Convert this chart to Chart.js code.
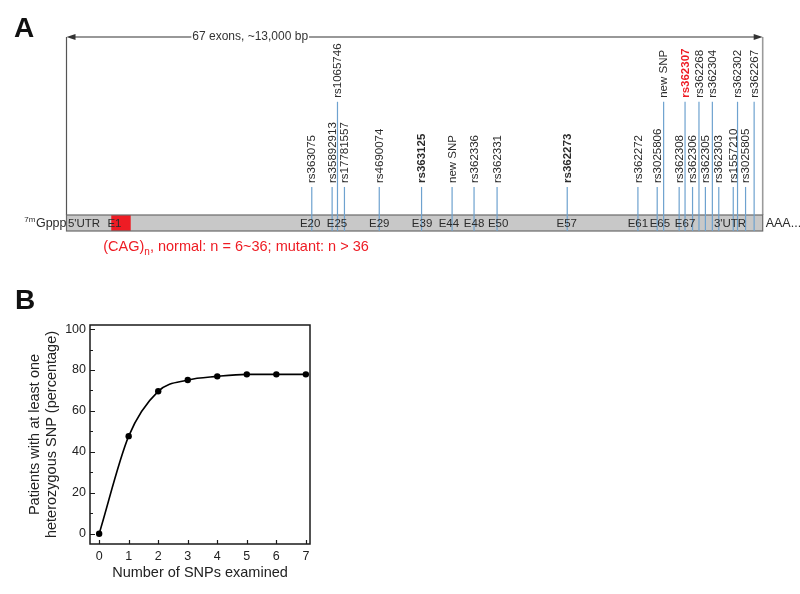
<!DOCTYPE html>
<html><head><meta charset="utf-8">
<script src="https://cdn.jsdelivr.net/npm/chart.js@4/dist/chart.umd.min.js"></script>
<style>
html,body{margin:0;padding:0;background:#fff;}
#wrap{position:relative;width:800px;height:594px;overflow:hidden;background:#fff;}
#geneCanvas{position:absolute;left:0;top:0;}
#curveCanvas{position:absolute;left:0;top:280px;}
</style></head><body>
<div id="wrap">
<canvas id="geneCanvas" width="800" height="280"></canvas>
<canvas id="curveCanvas" width="420" height="314"></canvas>
</div>
<script>
// ===== Panel A: HTT transcript with SNP sites =====
const geneLengthBp = 13000;
const geneTitle = '67 exons, ~13,000 bp';
const snpNames = ['rs363075','rs35892913','rs1065746','rs17781557','rs4690074','rs363125','new SNP','rs362336','rs362331','rs362273','rs362272','rs3025806','new SNP','rs362308','rs362307','rs362306','rs362268','rs362305','rs362304','rs362303','rs1557210','rs362302','rs3025805','rs362267'];
const snpPositionsBp = [4580,4960,5060,5190,5840,6630,7200,7610,8040,9350,10670,11030,11150,11440,11550,11690,11810,11930,12060,12180,12450,12530,12680,12840];
const snpTier = [1,1,2,1,1,1,1,1,1,1,1,1,2,1,2,1,2,1,2,1,1,2,1,2];
const snpEmphasis = ['n','n','n','n','n','b','n','n','n','b','n','n','n','n','r','n','n','n','n','n','n','n','n','n'];
const exonLabels = ["5'UTR",'E1','E20','E25','E29','E39','E44','E48','E50','E57','E61','E65','E67',"3'UTR"];
const exonLabelPositionsBp = [327,896,4550,5050,5840,6640,7140,7610,8060,9340,10670,11080,11550,12390];
const cagExonRangeBp = [836,1199];
const capLabel = ['7m','Gppp'];
const polyALabel = 'AAA...';
const cagNote = ['(CAG)','n',', normal: n = 6~36; mutant: n > 36'];

// ===== Panel B: cumulative heterozygosity =====
const snpCountValues = [0,1,2,3,4,5,6,7];
const patientsHetPct = [0,47.7,69.6,75.1,76.9,77.9,77.9,77.9];
const yTickValues = [0,20,40,60,80,100];
const xAxisTitle = 'Number of SNPs examined';
const yAxisTitle = ['Patients with at least one','heterozygous SNP (percentage)'];

const FONT = '"Liberation Sans", Arial, Helvetica, sans-serif';
Chart.defaults.font.family = FONT;

// layout constants (panel A, in y-scale units 0..100)
const BOX_TOP = 8.25;
const TIER_HEIGHT = {1: 22.7, 2: 66.6};
const TITLE_POS_BP = 3430;

const genePlugin = {
  id: 'gene',
  beforeDatasetsDraw(chart) {
    const {ctx, scales: {x, y}} = chart;
    const x0 = x.getPixelForValue(0), x1 = x.getPixelForValue(geneLengthBp);
    const yb = y.getPixelForValue(0), yt = y.getPixelForValue(BOX_TOP), ya = y.getPixelForValue(100);
    ctx.save();
    // end lines
    ctx.lineWidth = 1.2; ctx.strokeStyle = '#555';
    ctx.beginPath(); ctx.moveTo(x0, ya); ctx.lineTo(x0, yt); ctx.stroke();
    ctx.lineWidth = 1.6; ctx.strokeStyle = '#9a9a9a';
    ctx.beginPath(); ctx.moveTo(x1, ya); ctx.lineTo(x1, yt); ctx.stroke();
    // gene box
    ctx.fillStyle = '#c8c8c8';
    ctx.fillRect(x0, yt, x1 - x0, yb - yt);
    ctx.fillStyle = '#ee1c24';
    const c0 = x.getPixelForValue(cagExonRangeBp[0]), c1 = x.getPixelForValue(cagExonRangeBp[1]);
    ctx.fillRect(c0, yt, c1 - c0, yb - yt);
    ctx.lineWidth = 1.2; ctx.strokeStyle = '#6a6a6a';
    ctx.strokeRect(x0, yt, x1 - x0, yb - yt);
    // arrow with title
    ctx.font = '12px ' + FONT;
    const tx = x.getPixelForValue(TITLE_POS_BP);
    const tw = ctx.measureText(geneTitle).width;
    ctx.strokeStyle = '#333'; ctx.lineWidth = 1.2;
    ctx.beginPath();
    ctx.moveTo(x0 + 4, ya); ctx.lineTo(tx - tw / 2 - 1, ya);
    ctx.moveTo(tx + tw / 2 + 1, ya); ctx.lineTo(x1 - 4, ya);
    ctx.stroke();
    ctx.fillStyle = '#333';
    ctx.beginPath(); ctx.moveTo(x0, ya); ctx.lineTo(x0 + 9, ya - 3); ctx.lineTo(x0 + 9, ya + 3); ctx.closePath(); ctx.fill();
    ctx.beginPath(); ctx.moveTo(x1, ya); ctx.lineTo(x1 - 9, ya - 3); ctx.lineTo(x1 - 9, ya + 3); ctx.closePath(); ctx.fill();
    ctx.textAlign = 'center'; ctx.textBaseline = 'middle';
    ctx.fillText(geneTitle, tx, ya);
    ctx.restore();
  },
  afterDatasetsDraw(chart) {
    const {ctx, scales: {x, y}} = chart;
    const x0 = x.getPixelForValue(0), x1 = x.getPixelForValue(geneLengthBp);
    const ym = y.getPixelForValue(BOX_TOP / 2);
    ctx.save();
    // exon labels
    ctx.fillStyle = '#2b2b2b';
    ctx.font = '11.5px ' + FONT;
    ctx.textAlign = 'center'; ctx.textBaseline = 'middle';
    exonLabels.forEach((t, i) => ctx.fillText(t, x.getPixelForValue(exonLabelPositionsBp[i]), ym + 0.5));
    // SNP labels
    snpNames.forEach((t, i) => {
      const px = x.getPixelForValue(snpPositionsBp[i]);
      const py = y.getPixelForValue(TIER_HEIGHT[snpTier[i]]);
      const e = snpEmphasis[i];
      ctx.save();
      ctx.translate(px + 0.5, py - 4);
      ctx.rotate(-Math.PI / 2);
      ctx.textAlign = 'left'; ctx.textBaseline = 'middle';
      ctx.font = (e === 'n' ? '' : 'bold ') + '11.5px ' + FONT;
      ctx.fillStyle = e === 'r' ? '#ee1c24' : '#2b2b2b';
      ctx.fillText(t, 0, 0);
      ctx.restore();
    });
    // cap and poly-A
    ctx.fillStyle = '#2b2b2b';
    ctx.textBaseline = 'alphabetic';
    ctx.font = '12.5px ' + FONT;
    ctx.textAlign = 'right';
    const gw = ctx.measureText(capLabel[1]).width;
    ctx.fillText(capLabel[1], x0, ym + 4.5);
    ctx.font = '8px ' + FONT;
    ctx.fillText(capLabel[0], x0 - gw - 0.5, ym - 0.5);
    ctx.font = '12.5px ' + FONT;
    ctx.textAlign = 'left';
    ctx.fillText(polyALabel, x1 + 3, ym + 4.5);
    // CAG note
    ctx.fillStyle = '#ee1c24';
    let nx = x.getPixelForValue(cagExonRangeBp[0]) - 8;
    const ny = y.getPixelForValue(0) + 20;
    ctx.font = '14.5px ' + FONT;
    ctx.fillText(cagNote[0], nx, ny); nx += ctx.measureText(cagNote[0]).width;
    ctx.font = '10px ' + FONT;
    ctx.fillText(cagNote[1], nx, ny + 4); nx += ctx.measureText(cagNote[1]).width;
    ctx.font = '14.5px ' + FONT;
    ctx.fillText(cagNote[2], nx, ny);
    // panel letter
    ctx.fillStyle = '#111';
    ctx.font = 'bold 28px ' + FONT;
    ctx.fillText('A', 14, 37);
    ctx.restore();
  }
};

new Chart(document.getElementById('geneCanvas'), {
  type: 'scatter',
  data: {
    datasets: snpNames.map((n, i) => ({
      label: n,
      data: [{x: snpPositionsBp[i], y: 0}, {x: snpPositionsBp[i], y: TIER_HEIGHT[snpTier[i]]}],
      showLine: true, borderColor: '#6ea2cf', borderWidth: 1.2, pointRadius: 0, clip: false
    }))
  },
  options: {
    responsive: false, animation: false, devicePixelRatio: 1, events: [],
    layout: {padding: {left: 66.5, right: 37.3, top: 37, bottom: 49}},
    scales: {
      x: {type: 'linear', min: 0, max: geneLengthBp, display: false},
      y: {type: 'linear', min: 0, max: 100, display: false}
    },
    plugins: {legend: {display: false}, tooltip: {enabled: false}}
  },
  plugins: [genePlugin]
});

const framePlugin = {
  id: 'frame',
  afterDraw(chart) {
    const {ctx, chartArea: a, scales: {x, y}} = chart;
    ctx.save();
    ctx.strokeStyle = '#1a1a1a'; ctx.lineWidth = 1.5;
    ctx.strokeRect(a.left, a.top, a.right - a.left, a.bottom - a.top);
    ctx.lineWidth = 1.2;
    ctx.beginPath();
    for (let v = 0; v <= 100; v += 10) {
      const py = Math.round(y.getPixelForValue(v)) + 0.5;
      const len = v % 20 === 0 ? 5 : 3;
      ctx.moveTo(a.left, py); ctx.lineTo(a.left + len, py);
    }
    snpCountValues.forEach(v => {
      const px = Math.round(x.getPixelForValue(v)) + 0.5;
      ctx.moveTo(px, a.bottom); ctx.lineTo(px, a.bottom - 4);
    });
    ctx.stroke();
    ctx.fillStyle = '#111';
    ctx.font = 'bold 28px ' + FONT;
    ctx.textBaseline = 'alphabetic';
    ctx.fillText('B', 15, 29);
    ctx.restore();
  }
};

new Chart(document.getElementById('curveCanvas'), {
  type: 'scatter',
  data: {
    datasets: [{
      data: snpCountValues.map((v, i) => ({x: v, y: patientsHetPct[i]})),
      showLine: true, cubicInterpolationMode: 'monotone',
      borderColor: '#000', borderWidth: 1.6,
      pointRadius: 3.2, pointBackgroundColor: '#000', pointBorderWidth: 0, clip: false
    }]
  },
  options: {
    responsive: false, animation: false, devicePixelRatio: 1, events: [],
    layout: {padding: {left: 0, top: 45, right: 110, bottom: 0}},
    scales: {
      x: {
        type: 'linear', min: -0.31, max: 7.14,
        afterBuildTicks: s => { s.ticks = snpCountValues.map(v => ({value: v})); },
        afterFit: s => { s.height = 50; },
        grid: {display: false, drawTicks: false},
        border: {display: false},
        ticks: {padding: 5, color: '#222', font: {size: 12.5}},
        title: {display: true, text: xAxisTitle, color: '#222', font: {size: 14.5}, padding: {top: 0, bottom: 12}}
      },
      y: {
        type: 'linear', min: -5, max: 102,
        afterBuildTicks: s => { s.ticks = yTickValues.map(v => ({value: v})); },
        afterFit: s => { s.width = 90; },
        grid: {display: false, drawTicks: false},
        border: {display: false},
        ticks: {padding: 4, color: '#222', font: {size: 12.5}},
        title: {display: true, text: yAxisTitle, color: '#222', font: {size: 14.5}, padding: {top: 26, bottom: 0}}
      }
    },
    plugins: {legend: {display: false}, tooltip: {enabled: false}}
  },
  plugins: [framePlugin]
});
</script>
</body></html>
